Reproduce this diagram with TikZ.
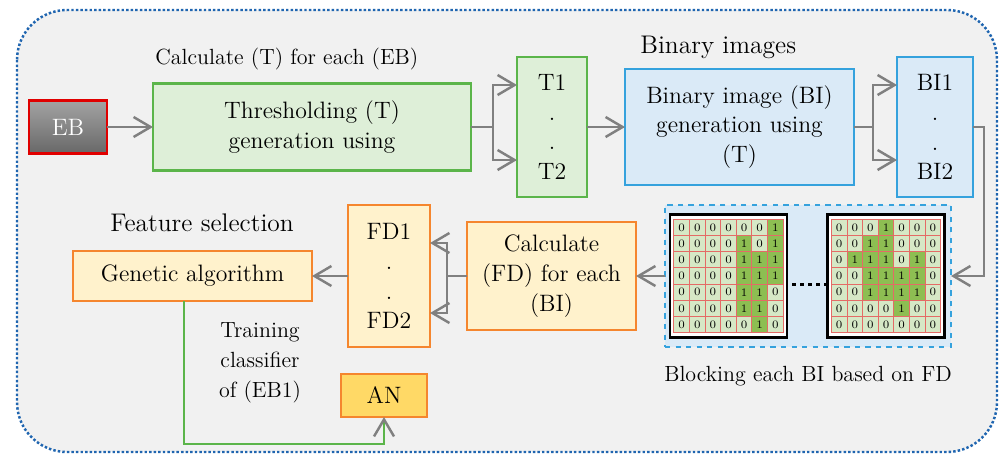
\documentclass[tikz,border=0pt]{standalone}
\usepackage{xcolor}
\usepackage{tikz}
\usetikzlibrary{arrows.meta,positioning}

\definecolor{framegray}{HTML}{F1F1F1}
\definecolor{frameblue}{HTML}{1F65B0}
\definecolor{greenfill}{HTML}{DEEFD8}
\definecolor{greenline}{HTML}{5BB54A}
\definecolor{bluefill}{HTML}{DAEAF7}
\definecolor{blueline}{HTML}{35A2DD}
\definecolor{orangeline}{HTML}{F5862E}
\definecolor{orangefill}{HTML}{FFF2CC}
\definecolor{goldfill}{HTML}{FFD966}
\definecolor{arrowgray}{HTML}{808080}
\definecolor{cell0}{HTML}{D6E8C6}
\definecolor{cell1}{HTML}{8DBE52}
\definecolor{cellline}{HTML}{E46B66}
\definecolor{ebtop}{HTML}{A3A3A3}
\definecolor{ebbottom}{HTML}{686868}
\definecolor{ebred}{HTML}{E00000}

\begin{document}
\begin{tikzpicture}[
  node distance=9mm and 9mm,
  box/.style={draw,line width=1.2pt,inner sep=0pt,outer sep=0pt,align=center,font=\fontsize{13.5}{17}\selectfont},
  greenbox/.style={box,draw=greenline,fill=greenfill},
  bluebox/.style={box,draw=blueline,fill=bluefill},
  orangebox/.style={box,draw=orangeline,fill=orangefill},
  ebbox/.style={box,draw=ebred,top color=ebtop,bottom color=ebbottom,text=white,minimum width=15.6mm,minimum height=10.6mm},
  heading/.style={inner sep=0pt,font=\fontsize{14.5}{17}\selectfont},
  caption/.style={inner sep=0pt,align=center,font=\fontsize{12.5}{17}\selectfont},
  blockarea/.style={draw=blueline,dashed,line width=1.1pt,fill=bluefill,minimum width=57.2mm,minimum height=28.4mm,inner sep=0pt,outer sep=0pt},
  gridframe/.style={draw=black,line width=1.4pt,fill=white,minimum width=23.4mm,minimum height=24.6mm,inner sep=0pt,outer sep=0pt},
  cell/.style={draw=cellline,line width=0.5pt,minimum width=3.12mm,minimum height=3.24mm,inner sep=0pt,font=\fontsize{6.5}{7}\selectfont},
  arr/.style={-{Straight Barb[length=3.4mm,width=4mm]},line width=1.4pt,draw=arrowgray},
  trainline/.style={draw=greenline,line width=0.9pt,-{Straight Barb[length=3.4mm,width=4mm,color=arrowgray,line width=1.4pt]}}]
\useasboundingbox (0,0) rectangle (20.04,-9.08);
% outer frame
\draw[fill=framegray,draw=frameblue,line width=1.4pt,dash pattern=on 1.4pt off 1.2pt,rounded corners=10mm] (0.34,-0.2) rectangle (19.94,-9.04);

% first row
\node[ebbox] (eb) at (1.36,-2.54) {EB};
\node[greenbox,right=9.2mm of eb,minimum width=63.6mm,minimum height=17.4mm] (thr) {Thresholding (T)\\generation using};
\node[greenbox,right=9.2mm of thr,minimum width=14mm,minimum height=28mm] (tbox) {T1\\.\\.\\T2};
\node[bluebox,right=7.6mm of tbox,minimum width=45.8mm,minimum height=23.2mm] (bigen) {Binary image (BI)\\generation using\\(T)};
\node[bluebox,right=8.6mm of bigen,minimum width=15.2mm,minimum height=28mm] (bibox) {BI1\\.\\.\\BI2};
\node[caption,anchor=south west] (thrlabel) at ([xshift=0.4mm,yshift=2.6mm]thr.north west) {Calculate (T) for each (EB)};
\node[heading,anchor=south west] (bilabel) at ([xshift=3mm,yshift=2mm]bigen.north west) {Binary images};

% second row
\node[blockarea] (block) at (16.16,-5.52) {};
\node[orangebox,left=5.8mm of block,minimum width=33.8mm,minimum height=21.6mm] (calcfd) {Calculate\\(FD) for each\\(BI)};
\node[orangebox,left=7.4mm of calcfd,minimum width=16.4mm,minimum height=28.4mm] (fdbox) {FD1\\.\\.\\FD2};
\node[orangebox,left=7.2mm of fdbox,minimum width=47.8mm,minimum height=10mm] (genetic) {Genetic algorithm};
\node[orangebox,fill=goldfill,below=5.4mm of fdbox,xshift=-1mm,minimum width=17.2mm,minimum height=8.6mm] (an) {AN};
\node[heading,anchor=south west] (fslabel) at ([xshift=7.4mm,yshift=3.8mm]genetic.north west) {Feature selection};
\node[caption] (trainlabel) at (5.2,-7.26) {Training\\classifier\\of (EB1)};
\node[caption,below=3.8mm of block] (blocklabel) {Blocking each BI based on FD};

% blocked binary images
\node[gridframe] (g1) at ([xshift=-15.9mm]block.center) {};
\node[gridframe] (g2) at ([xshift=15.6mm]block.center) {};
\begin{scope}[shift={(g1.north west)}]
\foreach \row [count=\r] in {{0,0,0,0,0,0,1},{0,0,0,0,1,0,1},{0,0,0,0,1,1,1},{0,0,0,0,1,1,1},{0,0,0,0,1,1,0},{0,0,0,0,1,1,0},{0,0,0,0,0,1,0}}
  \foreach \v [count=\c] in \row
    \node[cell,fill=cell\v] (g1-\r-\c) at ({0.078+0.312*(\c-0.5)},{-0.096-0.324*(\r-0.5)}) {\v};
\end{scope}
\begin{scope}[shift={(g2.north west)}]
\foreach \row [count=\r] in {{0,0,0,1,0,0,0},{0,0,1,1,0,0,0},{0,1,1,1,0,1,0},{0,0,1,1,1,1,0},{0,0,1,1,1,1,0},{0,0,0,0,1,0,0},{0,0,0,0,0,0,0}}
  \foreach \v [count=\c] in \row
    \node[cell,fill=cell\v] (g2-\r-\c) at ({0.078+0.312*(\c-0.5)},{-0.096-0.324*(\r-0.5)}) {\v};
\end{scope}
\draw[line width=2pt,dash pattern=on 2pt off 2.6pt] ([xshift=1mm,yshift=-1.7mm]g1.east) -- ([yshift=-1.7mm]g2.west);

% connectors
\draw[arr] (eb) -- (thr);
\draw[arr] (thr.east) -- ++(4.4mm,0) |- ([yshift=8.4mm]tbox.west);
\draw[arr] (thr.east) -- ++(4.4mm,0) |- ([yshift=-6.6mm]tbox.west);
\draw[arr] (tbox) -- (bigen);
\draw[arr] (bigen.east) -- ++(3.8mm,0) |- ([yshift=8.4mm]bibox.west);
\draw[arr] (bigen.east) -- ++(3.8mm,0) |- ([yshift=-6.6mm]bibox.west);
\draw[arr] (bibox.east) -- ++(2.2mm,0) |- (block.east);
\draw[arr] (block) -- (calcfd);
\draw[arr] (calcfd.west) -- ++(-4mm,0) |- ([yshift=6.6mm]fdbox.east);
\draw[arr] (calcfd.west) -- ++(-4mm,0) |- ([yshift=-7.4mm]fdbox.east);
\draw[arr] (fdbox) -- (genetic);
\draw[trainline] ([xshift=-1.7mm]genetic.south) -- ++(0,-2.86) -| (an.south);
\end{tikzpicture}
\end{document}
